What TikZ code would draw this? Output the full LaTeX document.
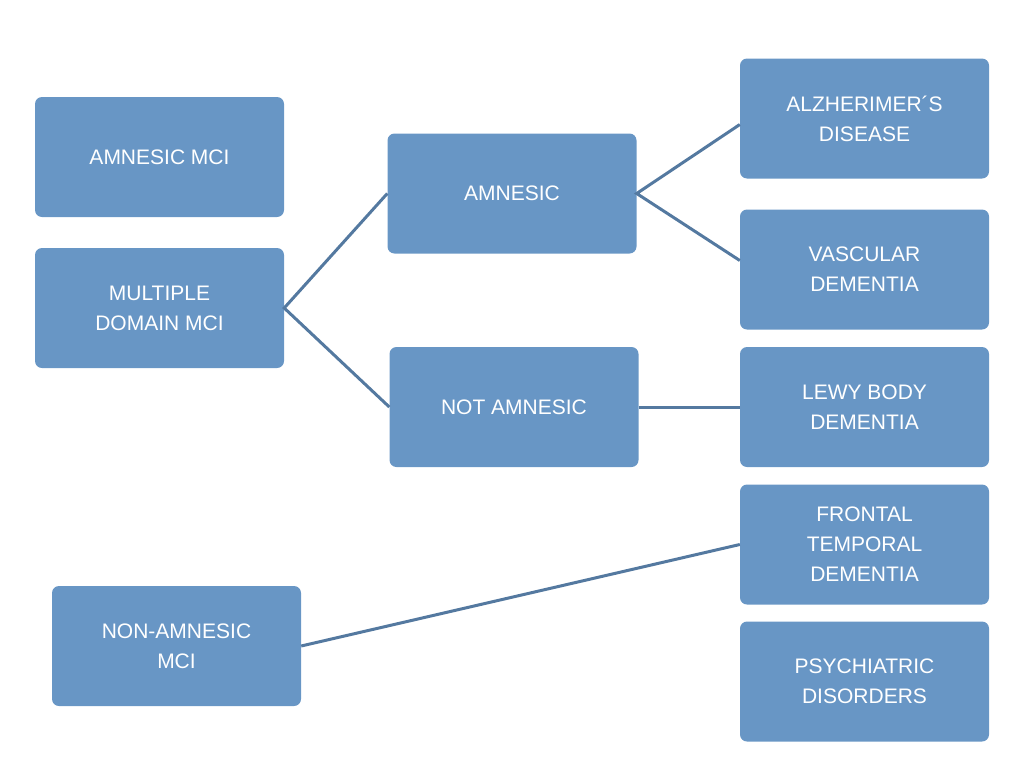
\documentclass[tikz,border=0pt]{standalone}
\usepackage{fontspec}
\setmainfont{Liberation Sans}
\definecolor{boxblue}{RGB}{104,150,197}
\definecolor{lineblue}{RGB}{84,121,160}
\begin{document}
\begin{tikzpicture}[x=1pt,y=-1pt,
    box/.style={fill=boxblue, rounded corners=7pt, minimum width=249pt, minimum height=120pt,
        inner sep=0pt, align=center, text=white, font=\fontsize{21}{30}\selectfont},
    link/.style={draw=lineblue, line width=3pt}]
    \useasboundingbox (0,0) rectangle (1033,779);

    \node[box] (amci) at (159.5,157) {AMNESIC MCI};
    \node[box] (mdmci) at (159.5,308) {MULTIPLE\\DOMAIN MCI};
    \node[box] (namci) at (176.5,646) {NON-AMNESIC\\MCI};

    \node[box] (amn) at (512,193.5) {AMNESIC};
    \node[box] (notamn) at (514,407) {NOT AMNESIC};

    \node[box] (alz) at (864.5,118.5) {ALZHERIMER´S\\DISEASE};
    \node[box] (vasc) at (864.5,269.5) {VASCULAR\\DEMENTIA};
    \node[box] (lewy) at (864.5,407) {LEWY BODY\\DEMENTIA};
    \node[box] (ftd) at (864.5,544.5) {FRONTAL\\TEMPORAL\\DEMENTIA};
    \node[box] (psych) at (864.5,681.5) {PSYCHIATRIC\\DISORDERS};

    \draw[link] (amn.west) -- (mdmci.east) -- (notamn.west);
    \draw[link] ([yshift=-6pt]alz.west) -- (amn.east) -- ([yshift=9pt]vasc.west);
    \draw[link] (notamn.east) -- (lewy.west);
    \draw[link] (namci.east) -- (ftd.west);
\end{tikzpicture}
\end{document}
